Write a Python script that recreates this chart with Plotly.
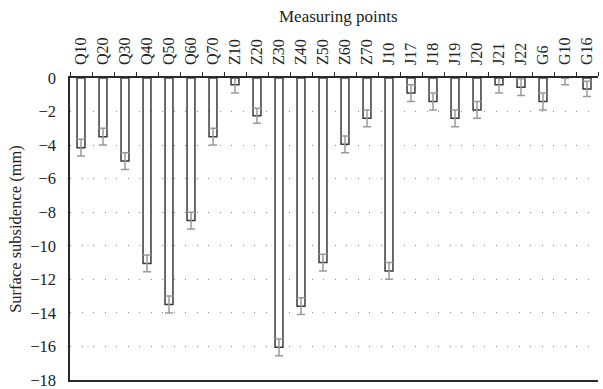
import plotly.graph_objects as go

points = ["Q10", "Q20", "Q30", "Q40", "Q50", "Q60", "Q70",
          "Z10", "Z20", "Z30", "Z40", "Z50", "Z60", "Z70",
          "J10", "J17", "J18", "J19", "J20", "J21", "J22",
          "G6", "G10", "G16"]
subsidence = [-4.15, -3.5, -4.95, -11.05, -13.5, -8.5, -3.5,
              -0.4, -2.25, -16.05, -13.6, -11.0, -3.95, -2.4,
              -11.5, -0.9, -1.4, -2.4, -1.9, -0.4, -0.55,
              -1.4, 0.0, -0.65]
err_plus = [0.5, 0.5, 0.5, 0.5, 0.5, 0.5, 0.5,
            0.5, 0.45, 0.5, 0.5, 0.5, 0.5, 0.5,
            0.5, 0.5, 0.5, 0.5, 0.5, 0.5, 0.5,
            0.5, 0.0, 0.45]
err_minus = [0.5, 0.5, 0.5, 0.5, 0.5, 0.5, 0.5,
             0.5, 0.45, 0.5, 0.5, 0.5, 0.5, 0.5,
             0.5, 0.5, 0.5, 0.5, 0.5, 0.5, 0.5,
             0.5, 0.4, 0.45]
y_ticks = [0, -2, -4, -6, -8, -10, -12, -14, -16, -18]

FONT = "Liberation Serif"
DARK = "#2a2a2a"

fig = go.Figure()
fig.add_trace(go.Bar(
    x=points, y=subsidence, width=0.36,
    marker=dict(color="white", line=dict(color="#3a3a3a", width=1.5)),
    error_y=dict(type="data", array=err_plus, arrayminus=err_minus,
                 color="#9a9a9a", thickness=1.5, width=4, symmetric=False),
    cliponaxis=True,
))

fig.update_layout(
    width=603, height=389,
    margin=dict(l=70, r=5, t=78, b=9),
    paper_bgcolor="white", plot_bgcolor="white",
    showlegend=False,
    font=dict(family=FONT, color="#222", size=16),
    xaxis=dict(
        side="top", type="category", tickangle=-90, automargin=False,
        tickson="boundaries", ticks="outside", ticklen=4, tickcolor=DARK,
        showline=True, linecolor=DARK, linewidth=1.5, mirror=True,
        showgrid=False, tickfont=dict(size=16, family=FONT, color="#222"),
        ticklabelstandoff=8,
    ),
    yaxis=dict(
        range=[-18, 0], tickvals=y_ticks, ticklabeloverflow="allow", automargin=False,
        showline=True, linecolor=DARK, linewidth=1.5,
        showgrid=True, gridcolor="#888", gridwidth=1, griddash="1px,10.5px",
        zeroline=False, ticks="", tickfont=dict(size=16.5, family=FONT, color="#222"),
        ticklabelstandoff=9,
        title=dict(text="Surface subsidence (mm)", font=dict(size=16.5, family=FONT, color="#222"),
                   standoff=4),
    ),
    annotations=[dict(text="Measuring points", xref="paper", yref="paper",
                      x=(338 - 70) / (603 - 75), y=1 + (78 - 16) / (389 - 87),
                      xanchor="center", yanchor="middle", showarrow=False,
                      font=dict(size=17, family=FONT, color="#222"))],
)

fig.write_html("out.html")
